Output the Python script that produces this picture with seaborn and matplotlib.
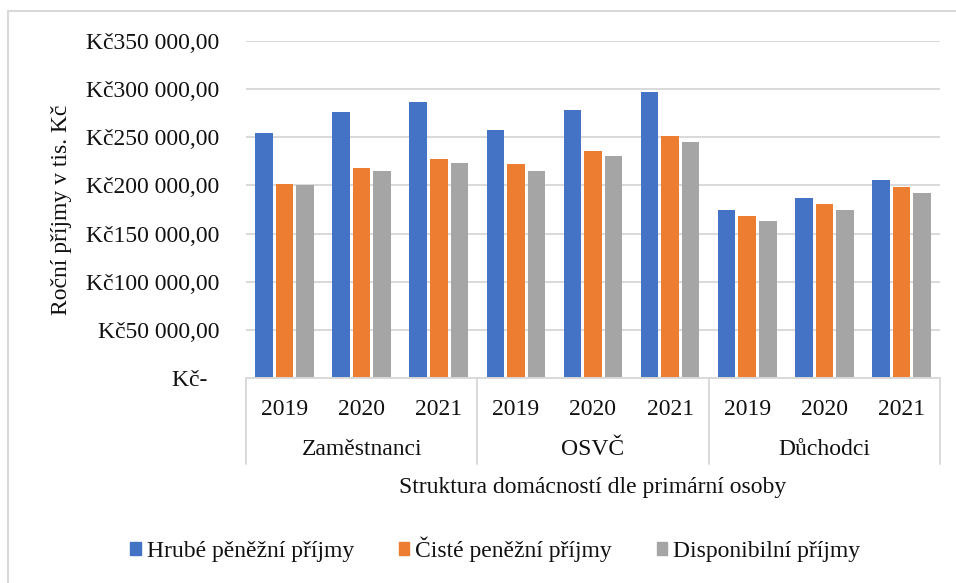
import matplotlib
matplotlib.use("Agg")
import matplotlib.pyplot as plt
import matplotlib.transforms as mtransforms
import seaborn as sns
import pandas as pd

# data
skupiny = ["Zaměstnanci", "OSVČ", "Důchodci"]
roky = ["2019", "2020", "2021"]
hrube = [254000, 276500, 287000, 257500, 278000, 297500, 174000, 187000, 206000]
ciste = [201500, 218000, 227000, 222000, 236000, 251000, 168500, 180500, 198000]
disponibilni = [200000, 215000, 223000, 215000, 231000, 245500, 163000, 175000, 192500]
rady = ["Hrubé pěněžní příjmy", "Čisté peněžní příjmy", "Disponibilní příjmy"]
barvy = ["#4472C4", "#ED7D31", "#A5A5A5"]

kategorie = [f"{s} {r}" for s in skupiny for r in roky]
rows = []
for nazev, hodnoty in zip(rady, [hrube, ciste, disponibilni]):
    for k, v in zip(kategorie, hodnoty):
        rows.append({"kategorie": k, "rada": nazev, "hodnota": v})
df = pd.DataFrame(rows)

sns.set_theme(style="white")
plt.rcParams["font.family"] = ["Liberation Serif", "DejaVu Serif"]
txt = "#111111"
grid_c = "#D9D9D9"
fs = 17

fig = plt.figure(figsize=(9.56, 5.83), dpi=100)
ax = fig.add_axes([246 / 956, 1 - 378 / 583, 694 / 956, 337 / 583])

sns.barplot(data=df, x="kategorie", y="hodnota", hue="rada", order=kategorie,
            hue_order=rady, palette=barvy, width=0.8, gap=0.15, saturation=1,
            edgecolor="none", ax=ax)

ax.set_ylim(0, 350000)
ax.set_xlim(-0.5, 8.5)
ax.set_yticks(range(0, 350001, 50000))


def kc(v):
    if v == 0:
        return "Kč-  "
    return "Kč" + f"{int(v):,}".replace(",", " ") + ",00"


ax.set_yticklabels([kc(v) for v in range(0, 350001, 50000)])
ax.yaxis.grid(True, color=grid_c, linewidth=1.4)
ax.set_axisbelow(True)
ax.tick_params(axis="y", length=0, pad=19, labelsize=fs, labelcolor=txt)
ax.tick_params(axis="x", length=0, pad=15, labelsize=fs, labelcolor=txt)
ax.set_xticks(range(len(kategorie)))
ax.set_xticklabels(roky * len(skupiny))

for side in ["top", "right", "left"]:
    ax.spines[side].set_visible(False)
ax.spines["bottom"].set_color(grid_c)
ax.spines["bottom"].set_linewidth(1.4)

# multi-level category axis
trans = mtransforms.blended_transform_factory(ax.transData, ax.transAxes)
for xs in [-0.5, 2.5, 5.5, 8.5]:
    ax.plot([xs, xs], [0, -0.255], color=grid_c, linewidth=1.4,
            transform=trans, clip_on=False)
for i, s in enumerate(skupiny):
    ax.text(i * 3 + 1, -0.213, s, transform=trans, ha="center", va="center",
            fontsize=fs, color=txt)

ax.set_xlabel("Struktura domácností dle primární osoby", fontsize=fs, color=txt)
ax.xaxis.set_label_coords(0.5, -0.325)
ax.xaxis.label.set_va("center")
ax.set_ylabel("Roční příjmy v tis. Kč", fontsize=fs, color=txt)
ax.yaxis.set_label_coords(-0.266, 0.5)
ax.yaxis.label.set_va("center")

ax.legend_.remove()
handles = [plt.Rectangle((0, 0), 1, 1, color=c) for c in barvy]
fig.legend(handles, rady, loc="center", bbox_to_anchor=(0.518, 1 - 549 / 583),
           ncol=3, frameon=False, fontsize=fs, handlelength=0.45,
           handleheight=0.45, handletextpad=0.25, columnspacing=1.9,
           labelcolor=txt)

# outer chart border
fig.add_artist(plt.Line2D([8 / 956, 8 / 956], [0, 1 - 11 / 583],
                          color=grid_c, linewidth=1.5))
fig.add_artist(plt.Line2D([8 / 956, 1], [1 - 11 / 583, 1 - 11 / 583],
                          color=grid_c, linewidth=1.5))

fig.savefig("out.png", dpi=100)
